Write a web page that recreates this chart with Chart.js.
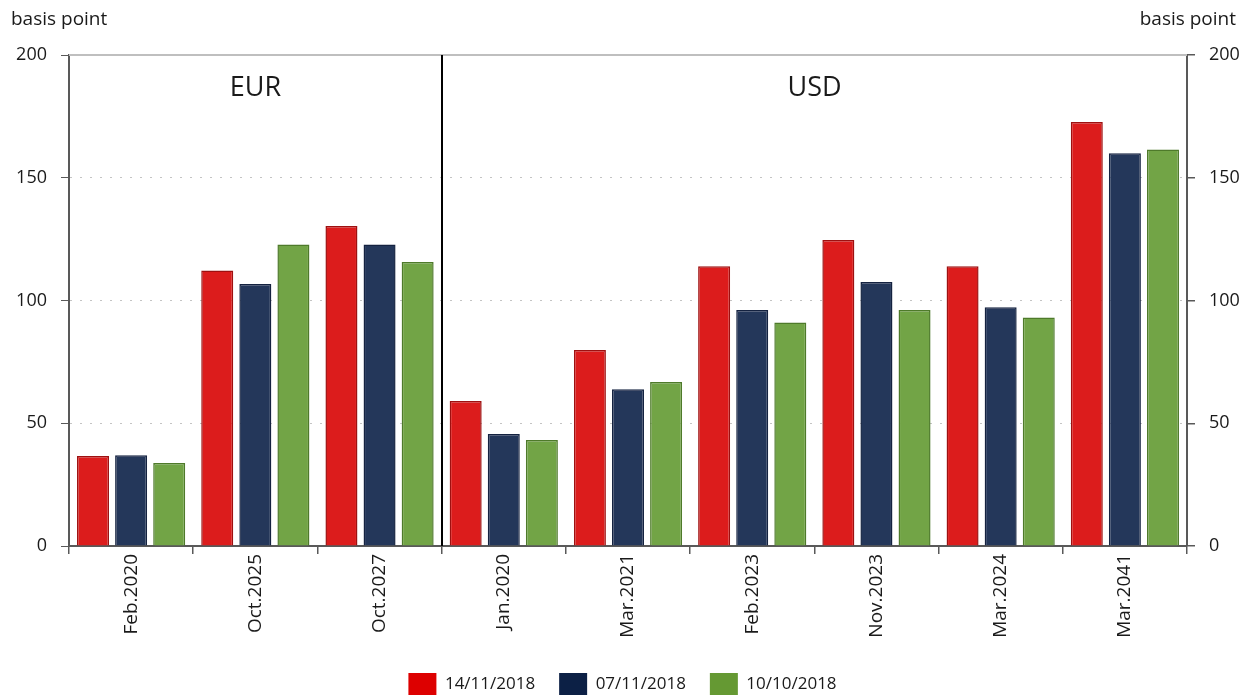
<!DOCTYPE html>
<html>
<head>
<meta charset="utf-8">
<script src="https://cdn.jsdelivr.net/npm/chart.js@4.4.1/dist/chart.umd.min.js"></script>
<style>
    html, body { margin: 0; padding: 0; background: #fff; }
    canvas { display: block; }
</style>
</head>
<body>
<canvas id="spreadChart" width="1245" height="695"></canvas>
<script>
// categories (bond maturities), EUR first three, USD the rest
const categories = ['Feb.2020', 'Oct.2025', 'Oct.2027', 'Jan.2020', 'Mar.2021', 'Feb.2023', 'Nov.2023', 'Mar.2024', 'Mar.2041'];
const seriesNames = ['14/11/2018', '07/11/2018', '10/10/2018'];

const values14Nov = [36.7, 112.2, 130.3, 59.1, 79.8, 114.0, 124.6, 114.0, 172.7];
const values07Nov = [37.0, 106.7, 122.8, 45.6, 63.8, 96.1, 107.5, 97.2, 160.0];
const values10Oct = [33.8, 122.8, 115.7, 43.2, 66.8, 91.0, 96.1, 93.1, 161.5];

const yTicks = [0, 50, 100, 150, 200];
const groupNames = ['EUR', 'USD'];

const FONT = '"Open Sans", "Noto Sans", sans-serif';
const TEXT = '#1a1a1a';
const AXIS = '#595959';

// colours: bar fill, bar border, legend swatch
const fills = ['#DC1C1C', '#24375A', '#72A446'];
const borders = ['#9E1010', '#142240', '#4E7A2A'];
const swatches = ['#DD0000', '#0C2045', '#659933'];

// extra drawing: unit labels, EUR/USD divider and titles, top line
const decorPlugin = {
    id: 'decor',
    afterDraw(chart) {
        const ctx = chart.ctx;
        const area = chart.chartArea;
        const x = chart.scales.x;

        ctx.save();
        // top line at 200
        ctx.strokeStyle = '#bfbfbf';
        ctx.lineWidth = 2;
        ctx.beginPath();
        ctx.moveTo(area.left, area.top);
        ctx.lineTo(area.right, area.top);
        ctx.stroke();

        // divider between EUR and USD
        const splitX = Math.round((x.getPixelForTick(2) + x.getPixelForTick(3)) / 2);
        ctx.strokeStyle = '#000';
        ctx.lineWidth = 2;
        ctx.beginPath();
        ctx.moveTo(splitX, area.top);
        ctx.lineTo(splitX, area.bottom);
        ctx.stroke();

        ctx.fillStyle = TEXT;
        ctx.textBaseline = 'middle';
        ctx.font = '27px ' + FONT;
        ctx.textAlign = 'center';
        ctx.fillText(groupNames[0], (area.left + splitX) / 2, area.top + 33);
        ctx.fillText(groupNames[1], (splitX + area.right) / 2, area.top + 33);

        ctx.font = '19px ' + FONT;
        ctx.textAlign = 'left';
        ctx.fillText('basis point', 11, 20);
        ctx.textAlign = 'right';
        ctx.fillText('basis point', 1236, 20);
        ctx.restore();
    }
};

const ctx = document.getElementById('spreadChart').getContext('2d');

const datasets = [values14Nov, values07Nov, values10Oct].map((vals, i) => ({
    label: seriesNames[i],
    data: vals,
    backgroundColor: fills[i],
    borderColor: borders[i],
    borderWidth: 1.5,
    borderSkipped: 'bottom',
    categoryPercentage: 0.92,
    barPercentage: 0.84
}));

const yTickCallback = (value) => yTicks.includes(value) ? value : '';

document.getElementById('spreadChart').chart = new Chart(ctx, {
    type: 'bar',
    data: {
        labels: categories,
        datasets: datasets
    },
    options: {
        responsive: false,
        animation: false,
        layout: { padding: { top: 55, bottom: -11 } },
        plugins: {
            tooltip: { enabled: false },
            legend: {
                position: 'bottom',
                labels: {
                    font: { family: FONT, size: 17 },
                    color: TEXT,
                    boxWidth: 28,
                    boxHeight: 23,
                    padding: 24,
                    generateLabels(chart) {
                        return chart.data.datasets.map((ds, i) => ({
                            text: ds.label,
                            fillStyle: swatches[i],
                            strokeStyle: swatches[i],
                            lineWidth: 0,
                            datasetIndex: i,
                            fontColor: TEXT
                        }));
                    }
                }
            }
        },
        scales: {
            x: {
                offset: true,
                grid: {
                    offset: true,
                    drawOnChartArea: false,
                    color: AXIS,
                    tickLength: 8,
                    lineWidth: 1.5
                },
                border: { color: AXIS, width: 2 },
                ticks: {
                    font: { family: FONT, size: 19 },
                    color: TEXT,
                    minRotation: 90,
                    maxRotation: 90,
                    padding: 0
                },
                afterFit(scale) { scale.height = 103; }
            },
            y: {
                position: 'left',
                min: 0,
                max: 200,
                ticks: {
                    stepSize: 50,
                    font: { family: FONT, size: 18 },
                    color: TEXT,
                    padding: 14,
                    callback: yTickCallback
                },
                grid: {
                    color: (c) => (c.tick && (c.tick.value === 0 || c.tick.value === 200)) ? 'rgba(0,0,0,0)' : '#c4c4c4',
                    tickColor: AXIS,
                    tickLength: 8,
                    lineWidth: 1
                },
                border: { color: AXIS, width: 2, dash: [2, 8] },
                afterFit(scale) { scale.width = 69; }
            },
            y2: {
                position: 'right',
                min: 0,
                max: 200,
                ticks: {
                    stepSize: 50,
                    font: { family: FONT, size: 18 },
                    color: TEXT,
                    padding: 14,
                    callback: yTickCallback
                },
                grid: {
                    drawOnChartArea: false,
                    color: AXIS,
                    tickLength: 8,
                    lineWidth: 1.5
                },
                border: { color: AXIS, width: 2 },
                afterFit(scale) { scale.width = 58; }
            }
        }
    },
    plugins: [decorPlugin]
});
</script>
</body>
</html>
